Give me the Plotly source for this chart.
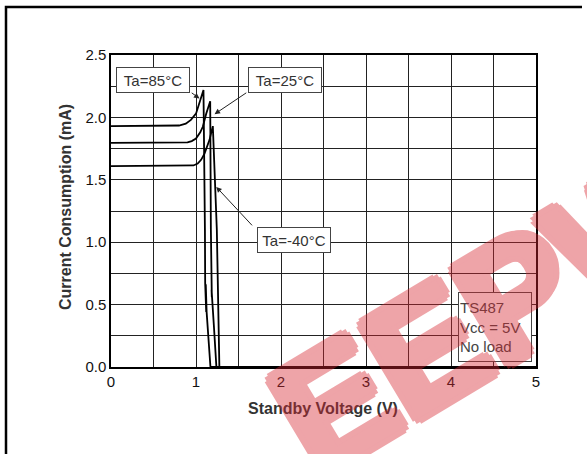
import plotly.graph_objects as go

# ---- data ----
v_85 = [0.0, 0.70, 0.80, 0.88, 0.94, 1.00, 1.04, 1.07, 1.088, 1.105, 1.108, 1.12, 1.115, 1.125, 1.17, 5.0]
i_85 = [1.93, 1.93, 1.935, 1.95, 1.98, 2.03, 2.11, 2.18, 2.22, 1.10, 0.67, 0.44, 0.66, 0.44, 0.0, 0.0]

v_25 = [0.0, 0.82, 0.90, 0.95, 1.00, 1.05, 1.08, 1.12, 1.145, 1.167, 1.175, 1.186, 1.183, 1.21, 1.24, 5.0]
i_25 = [1.796, 1.796, 1.80, 1.81, 1.83, 1.88, 1.925, 2.03, 2.09, 2.13, 1.10, 0.56, 0.62, 0.335, 0.0, 0.0]

v_m40 = [0.0, 0.90, 0.97, 1.02, 1.06, 1.10, 1.13, 1.159, 1.18, 1.198, 1.245, 1.275, 5.0]
i_m40 = [1.609, 1.609, 1.615, 1.63, 1.66, 1.71, 1.76, 1.82, 1.88, 1.93, 1.10, 0.0, 0.0]

x_ticks = [0, 1, 2, 3, 4, 5]
y_ticks = [0.0, 0.5, 1.0, 1.5, 2.0, 2.5]
y_tick_labels = ["0.0", "0.5", "1.0", "1.5", "2.0", "2.5"]

labels = ["Ta=85\u00b0C", "Ta=25\u00b0C", "Ta=-40\u00b0C"]
label_pos = [(0.492, 2.303), (2.047, 2.303), (2.149, 1.014)]
arrow_tail = [(0.932, 2.205), (1.609, 2.205), (1.676, 1.123)]
arrow_head = [(1.041, 2.152), (1.218, 2.026), (1.238, 1.443)]
note_text = "TS487<br>Vcc = 5V<br>No load"
watermark = "EEPW"

W, H = 587, 454
L, R, T, B = 111, 51, 55, 87
pw, ph = W - L - R, H - T - B


def px(x):
    return (x - L) / pw


def py(y):
    return (H - B - y) / ph


FONT = "Liberation Sans, Arial, sans-serif"

fig = go.Figure()
for v, i in [(v_85, i_85), (v_25, i_25), (v_m40, i_m40)]:
    fig.add_trace(go.Scatter(x=v, y=i, mode="lines",
                             line=dict(color="black", width=1.8),
                             showlegend=False, hoverinfo="skip"))

ann = []
for t, (x, y) in zip(labels, label_pos):
    ann.append(dict(x=x, y=y, xref="x", yref="y", text=t, showarrow=False,
                    font=dict(family=FONT, size=15, color="#333"),
                    bgcolor="white", bordercolor="#444", borderwidth=1,
                    width=70, height=22, borderpad=1))
for (tx, ty), (hx, hy) in zip(arrow_tail, arrow_head):
    ann.append(dict(x=hx, y=hy, xref="x", yref="y", ax=tx, ay=ty,
                    axref="x", ayref="y", text="", showarrow=True,
                    arrowhead=2, arrowsize=1.1, arrowwidth=1, arrowcolor="#222"))
ann.append(dict(x=4.512, y=0.318, xref="x", yref="y", text=note_text,
                showarrow=False, align="left",
                font=dict(family=FONT, size=15, color="#444"),
                bgcolor="white", bordercolor="#444", borderwidth=1,
                width=70, height=66, borderpad=1))
# axis titles
ann.append(dict(x=px(323), y=py(408), xref="paper", yref="paper",
                xanchor="center", yanchor="middle",
                text="<b>Standby Voltage (V)</b>", showarrow=False,
                font=dict(family=FONT, size=16, color="#333")))
ann.append(dict(x=px(65), y=py(207), xref="paper", yref="paper",
                xanchor="center", yanchor="middle",
                text="<b>Current Consumption (mA)</b>", showarrow=False,
                textangle=-90, font=dict(family=FONT, size=16, color="#333")))
# watermark (thickened with a text shadow, tinted via annotation opacity)
wm = "#d72832"
sh = ", ".join(f"{dx}px {dy}px 0 {wm}" for dx, dy in
               [(6, 0), (-6, 0), (0, 6), (0, -6), (4, 4), (-4, 4), (4, -4), (-4, -4)])
ann.append(dict(x=px(490), y=py(310), xref="paper", yref="paper",
                xanchor="center", yanchor="middle", opacity=0.42,
                text="<b>" + watermark + "</b>", showarrow=False, textangle=-31,
                font=dict(family=FONT, size=160, color=wm, shadow=sh)))

shapes = [
    dict(type="rect", xref="paper", yref="paper", x0=px(6), x1=px(800),
         y0=py(7), y1=py(800), line=dict(color="black", width=2.5),
         fillcolor="rgba(0,0,0,0)", layer="above"),
    dict(type="rect", xref="paper", yref="paper", x0=px(582), x1=px(800),
         y0=py(0), y1=py(12), line=dict(width=0),
         fillcolor="white", layer="above"),
]

axis_common = dict(showline=True, mirror=True, linecolor="black", linewidth=1.5,
                   showgrid=True, gridcolor="#222", gridwidth=1, zeroline=False,
                   ticks="", tickfont=dict(family=FONT, size=15, color="#111"))

fig.update_layout(
    width=W, height=H, margin=dict(l=L, r=R, t=T, b=B),
    paper_bgcolor="white", plot_bgcolor="white",
    xaxis=dict(range=[0, 5], tickvals=x_ticks,
               minor=dict(dtick=0.5, showgrid=True, gridcolor="#222", gridwidth=1),
               **axis_common),
    yaxis=dict(range=[0, 2.5], tickvals=y_ticks, ticktext=y_tick_labels,
               minor=dict(dtick=0.25, showgrid=True, gridcolor="#222", gridwidth=1),
               **axis_common),
    annotations=ann, shapes=shapes,
)
fig.write_html("out.html", config={"displayModeBar": False},
               post_script="document.body.style.margin='0px';document.body.style.overflow='hidden';")
